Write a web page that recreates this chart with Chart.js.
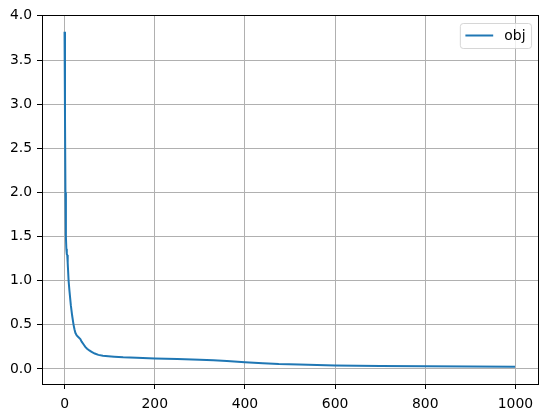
<!DOCTYPE html>
<html>
<head>
<meta charset="utf-8">
<script src="https://cdn.jsdelivr.net/npm/chart.js@4/dist/chart.umd.min.js"></script>
<style>
  html, body { margin: 0; padding: 0; background: #fff; }
  #chart { display: block; }
</style>
</head>
<body>
<canvas id="chart" width="547" height="418"></canvas>
<script>
// values (iteration -> obj)
const iterations = [0, 1, 2, 3, 4, 5, 6, 7, 9, 11, 14, 17, 20, 22, 24, 27, 31, 35, 38, 42, 46, 50, 55, 60, 67, 75, 85, 97, 110, 130, 160, 200, 250, 300, 330, 360, 400, 440, 475, 520, 560, 600, 700, 800, 900, 999];
const objValues = [3.82, 2.85, 2.0, 1.5, 1.36, 1.3, 1.29, 1.2, 1.0, 0.88, 0.72, 0.6, 0.5, 0.45, 0.41, 0.38, 0.36, 0.34, 0.31, 0.28, 0.25, 0.23, 0.21, 0.195, 0.175, 0.16, 0.15, 0.145, 0.14, 0.133, 0.127, 0.12, 0.113, 0.105, 0.098, 0.09, 0.076, 0.066, 0.056, 0.05, 0.044, 0.039, 0.034, 0.03, 0.028, 0.026];

const xTicks = [0, 200, 400, 600, 800, 1000];
const yTicks = [0, 0.5, 1.0, 1.5, 2.0, 2.5, 3.0, 3.5, 4.0];
const seriesLabel = "obj";

const lineColor = "#1f77b4";
const fontSize = 13.9;

Chart.defaults.font.family = "'DejaVu Sans', sans-serif";
Chart.defaults.font.size = fontSize;
Chart.defaults.color = "#000";

// frame round the plot area, like matplotlib spines
const framePlugin = {
  id: "frame",
  afterDraw(chart) {
    const a = chart.chartArea;
    const ctx = chart.ctx;
    ctx.save();
    ctx.strokeStyle = "#000";
    ctx.lineWidth = 1;
    ctx.strokeRect(Math.round(a.left) + 0.5, Math.round(a.top) + 0.5,
      Math.round(a.right - a.left), Math.round(a.bottom - a.top));
    ctx.restore();
  }
};

// matplotlib-like legend box in the upper right corner
const legendBoxPlugin = {
  id: "legendBox",
  afterDatasetsDraw(chart) {
    const a = chart.chartArea;
    const ctx = chart.ctx;
    const ds = chart.data.datasets[0];
    ctx.save();
    ctx.font = fontSize + "px 'DejaVu Sans'";
    const textW = ctx.measureText(ds.label).width;
    const pad = 0.4 * fontSize;
    const handle = 2.0 * fontSize;
    const gap = 0.8 * fontSize;
    const w = pad + handle + gap + textW + pad;
    const h = 25;
    const x = a.right - 0.5 * fontSize - w;
    const y = a.top + 8;
    const r = 3;
    ctx.beginPath();
    ctx.roundRect(x + 0.5, y + 0.5, w, h, r);
    ctx.fillStyle = "rgba(255,255,255,0.8)";
    ctx.fill();
    ctx.strokeStyle = "rgba(204,204,204,0.8)";
    ctx.lineWidth = 1;
    ctx.stroke();
    const cy = y + h / 2;
    ctx.beginPath();
    ctx.moveTo(x + pad, cy);
    ctx.lineTo(x + pad + handle, cy);
    ctx.strokeStyle = ds.borderColor;
    ctx.lineWidth = 2;
    ctx.stroke();
    ctx.fillStyle = "#000";
    ctx.textBaseline = "middle";
    ctx.fillText(ds.label, x + pad + handle + gap, cy + 1);
    ctx.restore();
  }
};

new Chart(document.getElementById("chart"), {
  type: "line",
  data: {
    datasets: [{
      label: seriesLabel,
      data: iterations.map((it, i) => ({ x: it, y: objValues[i] })),
      borderColor: lineColor,
      backgroundColor: lineColor,
      borderWidth: 2,
      pointRadius: 0,
      tension: 0,
      fill: false,
    }]
  },
  options: {
    responsive: false,
    animation: false,
    layout: {
      padding: { top: 15, right: 9, left: 0, bottom: 0 }
    },
    plugins: {
      legend: { display: false },
      tooltip: { enabled: false }
    },
    scales: {
      x: {
        type: "linear",
        min: -50,
        max: 1050,
        afterBuildTicks: (scale) => {
          scale.ticks = xTicks.map(v => ({ value: v }));
        },
        afterFit: (scale) => {
          scale.height = 34;
        },
        ticks: {
          padding: 7,
          maxRotation: 0,
          callback: (v) => String(v),
        },
        grid: {
          color: "#b0b0b0",
          lineWidth: 1,
          tickColor: "#000",
          tickLength: 5,
        },
        border: { display: false },
      },
      y: {
        min: -0.17,
        max: 4.01,
        afterBuildTicks: (scale) => {
          scale.ticks = yTicks.map(v => ({ value: v }));
        },
        afterFit: (scale) => {
          scale.width = 42;
        },
        ticks: {
          padding: 5,
          callback: (v) => Number(v).toFixed(1),
        },
        grid: {
          color: "#b0b0b0",
          lineWidth: 1,
          tickColor: "#000",
          tickLength: 5,
        },
        border: { display: false },
      }
    }
  },
  plugins: [framePlugin, legendBoxPlugin]
});
</script>
</body>
</html>
